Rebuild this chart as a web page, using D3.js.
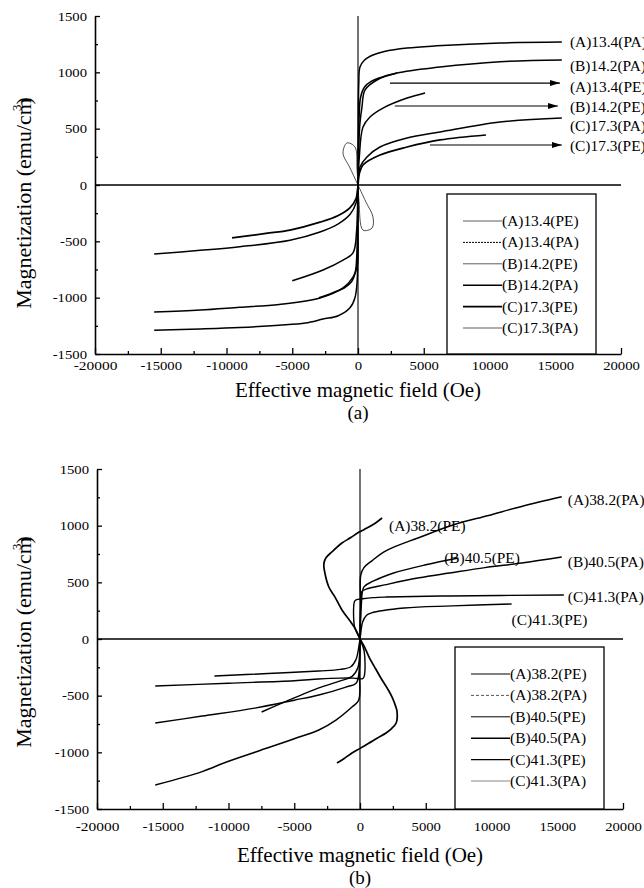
<!DOCTYPE html>
<html>
<head>
<meta charset="utf-8">
<script src="https://cdn.jsdelivr.net/npm/d3@7/dist/d3.min.js"></script>
<style>
  body { margin: 0; background: #fff; }
  svg { display: block; font-family: "Liberation Serif", "Times New Roman", serif; }
</style>
</head>
<body>
<svg id="chart" width="644" height="888"></svg>
<script>
// ---------- shared axis values ----------
var fieldTicks = [-20000, -15000, -10000, -5000, 0, 5000, 10000, 15000, 20000];
var fieldMinor = [-17500, -12500, -7500, -2500, 2500, 7500, 12500, 17500];
var magTicks = [-1500, -1000, -500, 0, 500, 1000, 1500];
var magMinor = [-1250, -750, -250, 250, 750, 1250];

// ---------- panel (a) data: [field Oe, magnetization emu/cm3] ----------
var a_A134_PA = [[-15500,-1290],[-12000,-1278],[-9000,-1265],[-6000,-1245],[-4000,-1225],[-2660,-1190],[-1500,-1160],[-610,-1090],[-230,-1000],[-60,-843],[-20,-400],[0,0],[20,400],[60,900],[150,1047],[500,1110],[1140,1154],[2000,1185],[3726,1216],[6000,1235],[10800,1260],[15500,1269]];
var a_B142_PA = [[-15500,-1127],[-12000,-1110],[-9000,-1085],[-6000,-1060],[-2890,-1003],[-1140,-914],[-380,-817],[-76,-728],[-20,-300],[0,0],[40,300],[150,550],[300,692],[530,843],[1440,932],[2970,994],[6240,1047],[10800,1094],[15500,1110]];
var a_A134_PE = [[-2970,-1000],[-2000,-960],[-1000,-910],[-500,-860],[-200,-770],[-80,-600],[-30,-300],[0,0],[30,300],[80,600],[200,780],[500,870],[1000,920],[2000,965],[2970,994]];
var a_A134_PE_loop = [[0,0],[-600,150],[-1140,284],[-836,373],[-228,337],[-80,150],[0,0],[80,-150],[380,-400],[1065,-382],[1140,-284],[600,-150],[0,0]];
var a_B142_PE = [[-5000,-850],[-2660,-754],[-1140,-666],[-380,-603],[-100,-400],[0,0],[100,250],[380,515],[910,604],[1900,683],[3730,772],[5100,817]];
var a_C173_PA = [[-15500,-612],[-12000,-580],[-9000,-548],[-5170,-490],[-2890,-417],[-1500,-345],[-600,-260],[-150,-160],[0,0],[50,100],[150,160],[680,249],[1670,337],[3730,417],[6240,470],[10800,559],[15500,594]];
var a_C173_PE = [[-9580,-470],[-7000,-430],[-5170,-400],[-2890,-330],[-1500,-270],[-600,-200],[-150,-120],[0,0],[100,100],[380,178],[1670,266],[3730,337],[6240,400],[9730,444]];

// ---------- panel (b) data ----------
var b_A382_PE = [[1680,1068],[1000,1010],[300,965],[-76,944],[-700,895],[-1370,847],[-2140,768],[-2600,715],[-2750,660],[-2700,600],[-2370,459],[-1900,370],[-1370,256],[-700,150],[-300,79],[0,0],[300,-60],[690,-159],[1200,-265],[1680,-362],[2100,-440],[2440,-512],[2700,-590],[2820,-644],[2750,-741],[2400,-790],[1980,-829],[1300,-875],[690,-918],[0,-965],[-610,-1006],[-1200,-1055],[-1750,-1094]];
var b_A382_PA = [[-15570,-1288],[-12000,-1170],[-10150,-1085],[-7000,-960],[-5000,-880],[-3130,-803],[-1830,-715],[-610,-600],[-100,-540],[-40,-300],[0,0],[40,300],[60,565],[300,630],[900,690],[2000,780],[4600,900],[7180,1010],[9770,1090],[12290,1170],[15340,1255]];
var b_B405_PE = [[-7480,-644],[-5000,-520],[-3130,-432],[-1500,-370],[-600,-330],[-150,-250],[0,0],[100,300],[300,459],[1000,510],[2500,580],[5000,655],[7480,715]];
var b_B405_PA = [[-15570,-741],[-12000,-680],[-8000,-610],[-5000,-540],[-3130,-494],[-1070,-424],[-300,-390],[-80,-300],[0,0],[60,300],[150,420],[460,440],[1980,480],[4500,540],[6800,582],[9500,630],[12290,670],[15340,723]];
var b_C413_PA = [[-15570,-415],[-10000,-390],[-5000,-368],[-3130,-353],[-1500,-345],[-500,-345],[200,-350],[320,-330],[320,-110],[0,0],[-400,100],[-420,330],[-300,345],[200,355],[1000,365],[2000,370],[6800,380],[15500,388]];
var b_C413_PE = [[-11070,-326],[-7000,-305],[-3130,-282],[-1500,-268],[-700,-245],[-300,-180],[0,0],[200,150],[500,210],[840,229],[3360,273],[7000,292],[11530,309]];

var legendA = ["(A)13.4(PE)", "(A)13.4(PA)", "(B)14.2(PE)", "(B)14.2(PA)", "(C)17.3(PE)", "(C)17.3(PA)"];
var legendB = ["(A)38.2(PE)", "(A)38.2(PA)", "(B)40.5(PE)", "(B)40.5(PA)", "(C)41.3(PE)", "(C)41.3(PA)"];

var svg = d3.select("#chart");

svg.append("defs").append("marker")
  .attr("id", "arrow")
  .attr("viewBox", "0 0 10 6")
  .attr("refX", 10).attr("refY", 3)
  .attr("markerWidth", 10).attr("markerHeight", 6)
  .attr("markerUnits", "userSpaceOnUse")
  .attr("orient", "auto")
  .append("path").attr("d", "M0,0L10,3L0,6Z").attr("fill", "#000");

// widen a text horizontally (the scanned fonts are a bit stretched)
function stretch(sel, k) {
  sel.each(function () {
    var w = this.getComputedTextLength();
    d3.select(this).attr("textLength", w * k).attr("lengthAdjust", "spacingAndGlyphs");
  });
}

function drawPanel(p) {
  var x = d3.scaleLinear().domain([-20000, 20000]).range(p.xr);
  var y = d3.scaleLinear().domain([-1500, 1500]).range(p.yr);
  var g = svg.append("g");
  var fmt = function (d) { return String(d); };

  // bottom axis
  var xa = g.append("g").attr("transform", "translate(0," + p.yr[0] + ")")
    .call(d3.axisBottom(x).tickValues(fieldTicks).tickSizeInner(-6).tickSizeOuter(0)
      .tickPadding(p.xPad).tickFormat(fmt));
  g.append("g").attr("transform", "translate(0," + p.yr[0] + ")")
    .call(d3.axisBottom(x).tickValues(fieldMinor).tickSizeInner(-3).tickSizeOuter(0).tickFormat(""))
    .select(".domain").remove();

  // left axis
  var ya = g.append("g").attr("transform", "translate(" + p.xr[0] + ",0)")
    .call(d3.axisLeft(y).tickValues(magTicks).tickSizeInner(-5).tickSizeOuter(0)
      .tickPadding(8).tickFormat(fmt));
  g.append("g").attr("transform", "translate(" + p.xr[0] + ",0)")
    .call(d3.axisLeft(y).tickValues(magMinor).tickSizeInner(-3).tickSizeOuter(0).tickFormat(""))
    .select(".domain").remove();

  g.selectAll(".domain").attr("stroke-width", 1.6);
  g.selectAll(".tick line").attr("stroke-width", 1.3);
  g.selectAll(".tick text").attr("font-family", "Liberation Serif, serif").attr("font-size", 13)
    .attr("fill", "#000");
  stretch(xa.selectAll(".tick text"), 1.13);
  stretch(ya.selectAll(".tick text"), 1.13);

  // zero lines
  g.append("line").attr("x1", x(-20000)).attr("x2", x(20000)).attr("y1", y(0)).attr("y2", y(0))
    .attr("stroke", "#000").attr("stroke-width", 1.3);
  g.append("line").attr("x1", x(0)).attr("x2", x(0)).attr("y1", y(1500)).attr("y2", y(-1500))
    .attr("stroke", "#000").attr("stroke-width", 1.1);

  // curves
  var line = d3.line().x(function (d) { return x(d[0]); }).y(function (d) { return y(d[1]); })
    .curve(d3.curveCatmullRom.alpha(0.5));
  p.curves.forEach(function (c) {
    g.append("path").attr("d", line(c.data)).attr("fill", "none")
      .attr("stroke", c.color || "#000").attr("stroke-width", c.w)
      .attr("stroke-linejoin", "round");
  });

  // arrows
  (p.arrows || []).forEach(function (a) {
    g.append("line").attr("x1", x(a[0])).attr("x2", x(a[1])).attr("y1", y(a[2])).attr("y2", y(a[2]))
      .attr("stroke", "#000").attr("stroke-width", 1.2).attr("marker-end", "url(#arrow)");
  });

  // curve labels
  p.labels.forEach(function (l) {
    var t = g.append("text").attr("x", x(l[1])).attr("y", y(l[2])).attr("dy", "0.35em")
      .attr("font-size", 14).text(l[0]);
    stretch(t, 1.1);
  });

  // legend
  var lg = g.append("g").attr("transform", "translate(" + p.legend[0] + "," + p.legend[1] + ")");
  lg.append("rect").attr("width", 149).attr("height", p.yr[0] - p.legend[1])
    .attr("fill", "#fff").attr("stroke", "#000").attr("stroke-width", 1.3);
  p.names.forEach(function (n, i) {
    var st = p.legendStyle[i];
    var yy = 27 + i * 21.4;
    lg.append("line").attr("x1", 16).attr("x2", 55).attr("y1", yy).attr("y2", yy)
      .attr("stroke", st.color || "#000").attr("stroke-width", st.w)
      .attr("stroke-dasharray", st.dash || null);
    var t = lg.append("text").attr("x", 55).attr("y", yy).attr("dy", "0.35em")
      .attr("font-size", 14).text(n);
    stretch(t, 1.1);
  });

  // axis titles
  var cx = (p.xr[0] + p.xr[1]) / 2;
  g.append("text").attr("x", cx).attr("y", p.titleY).attr("text-anchor", "middle")
    .attr("font-size", 21).text("Effective magnetic field (Oe)");
  stretch(g.select("text:last-child"), 1.05);
  g.append("text").attr("x", cx).attr("y", p.titleY + 22).attr("text-anchor", "middle")
    .attr("font-size", 19).text(p.tag);
  var yt = g.append("text").attr("transform", "translate(31," + p.yTitleC + ") rotate(-90)")
    .attr("text-anchor", "middle").attr("font-size", 22);
  yt.append("tspan").text("Magnetization (emu/cm");
  yt.append("tspan").attr("font-size", 13).attr("dx", -13).attr("dy", -10).text("3");
  yt.append("tspan").attr("dy", 10).text(")");
}

drawPanel({
  xr: [95, 621], yr: [354, 16], xPad: 7, titleY: 397, yTitleC: 203, tag: "(a)",
  legend: [447, 194], names: legendA,
  legendStyle: [{ w: 0.8, color: "#333" }, { w: 1, dash: "2,1" }, { w: 0.8, color: "#333" },
                { w: 1.5 }, { w: 1.9 }, { w: 0.8, color: "#333" }],
  curves: [
    { data: a_A134_PA, w: 1.5 }, { data: a_B142_PA, w: 1.5 }, { data: a_A134_PE, w: 1.6 },
    { data: a_A134_PE_loop, w: 0.8, color: "#222" }, { data: a_B142_PE, w: 1.5 },
    { data: a_C173_PA, w: 1.5 }, { data: a_C173_PE, w: 1.7 }
  ],
  arrows: [[2430, 15360, 905], [2800, 15200, 701], [5470, 15500, 355]],
  labels: [["(A)13.4(PA)", 16120, 1269], ["(B)14.2(PA)", 16120, 1056], ["(A)13.4(PE)", 16120, 870],
           ["(B)14.2(PE)", 16120, 692], ["(C)17.3(PA)", 16120, 524], ["(C)17.3(PE)", 16120, 346]]
});

drawPanel({
  xr: [97, 623], yr: [809, 469], xPad: 13, titleY: 862, yTitleC: 642, tag: "(b)",
  legend: [455, 647], names: legendB,
  legendStyle: [{ w: 1 }, { w: 1, dash: "3,2", color: "#555" }, { w: 1 },
                { w: 1.6 }, { w: 1.2 }, { w: 1.2, color: "#888" }],
  curves: [
    { data: b_A382_PE, w: 1.7 }, { data: b_A382_PA, w: 1.5 }, { data: b_B405_PE, w: 1.4 },
    { data: b_B405_PA, w: 1.4 }, { data: b_C413_PA, w: 1.4 }, { data: b_C413_PE, w: 1.4 }
  ],
  arrows: [],
  labels: [["(A)38.2(PE)", 2210, 1000], ["(A)38.2(PA)", 15800, 1226], ["(B)40.5(PE)", 6400, 715],
           ["(B)40.5(PA)", 15800, 680], ["(C)41.3(PA)", 15800, 370], ["(C)41.3(PE)", 11530, 168]]
});
</script>
</body>
</html>
